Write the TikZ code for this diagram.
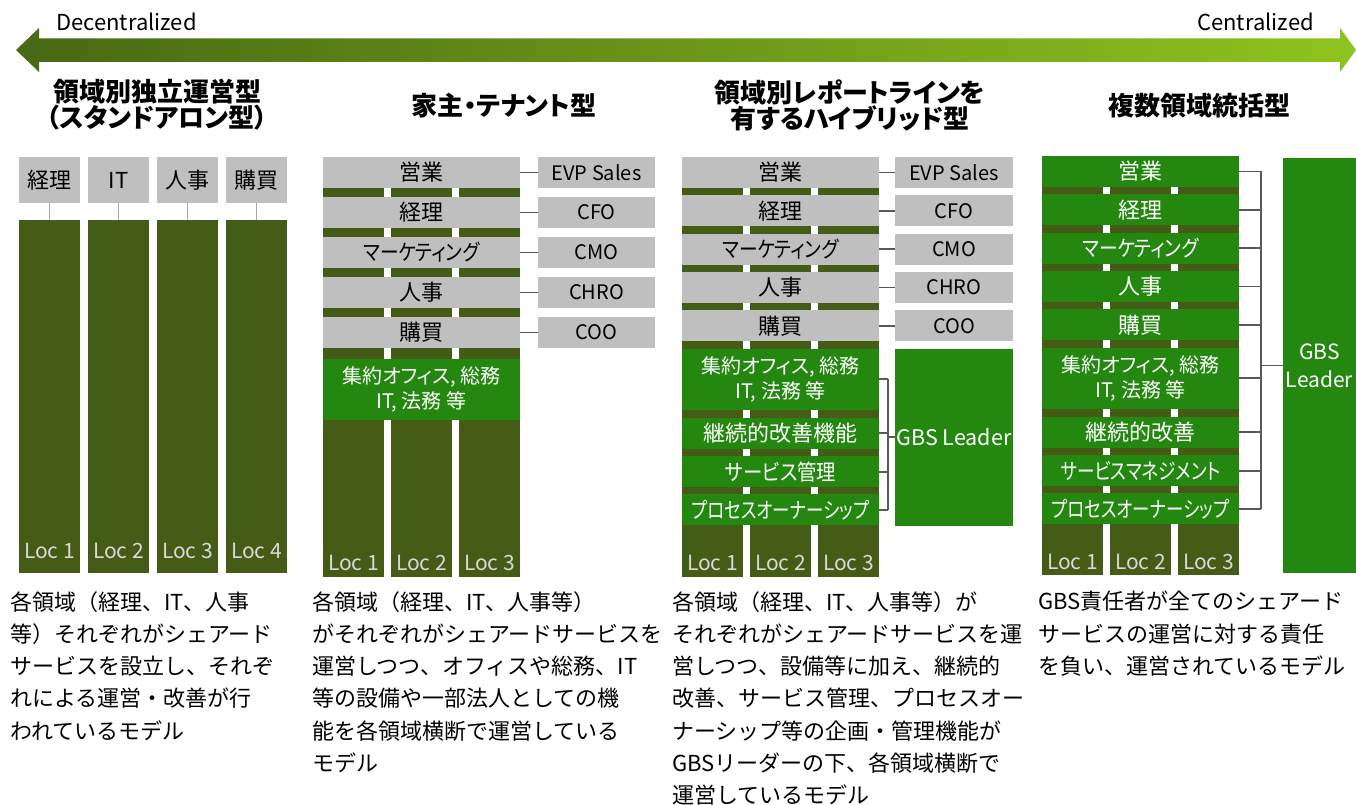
\documentclass[tikz,border=0pt]{standalone}
\usepackage{graphicx}
\usepackage{fontspec}
\setmainfont{Noto Sans CJK JP}[RawFeature=+palt]
\newfontfamily\bodyfont{Noto Sans CJK JP}
\newcommand\narrow[2]{\scalebox{#1}[1]{#2}}
\definecolor{locgreen}{RGB}{68,92,22}
\definecolor{gbsgreen}{RGB}{36,136,16}
\definecolor{boxgray}{RGB}{191,191,191}
\definecolor{linegray}{RGB}{89,89,89}
\definecolor{lightline}{RGB}{166,166,166}
\definecolor{loctext}{RGB}{217,217,217}
\definecolor{arrowL}{RGB}{72,104,20}
\definecolor{arrowR}{RGB}{142,196,30}
\tikzset{
  rect/.style={inner sep=0pt, outer sep=0pt, anchor=center},
  graybox/.style={rect, fill=boxgray, text=black, font=\fontsize{22}{25}\selectfont},
  rolebox/.style={rect, fill=boxgray, text=black, font=\fontsize{20}{25}\selectfont},
  greenbox/.style={rect, fill=gbsgreen, text=white, font=\fontsize{22}{25}\selectfont, align=center},
  twoline/.style={font=\fontsize{20}{25}\selectfont},
  loccol/.style={rect, fill=locgreen},
  loclabel/.style={text=loctext, font=\fontsize{21}{24}\selectfont, inner sep=0pt},
  conn/.style={draw=linegray, line width=1.8pt},
  thinconn/.style={draw=lightline, line width=1pt},
  ptitle/.style={font=\fontsize{26}{26}\selectfont\bfseries, align=center, inner sep=0pt},
  body/.style={font=\bodyfont\fontsize{22}{32.3}\selectfont, align=left, anchor=north west, inner sep=0pt},
  scale label/.style={font=\fontsize{22}{24}\selectfont, inner sep=0pt}
}
\begin{document}
\begin{tikzpicture}[x=1pt,y=-1pt]
\useasboundingbox (0,0) rectangle (1356,805);
% ---------- top arrow ----------
\shade[left color=arrowL, right color=arrowR]
  (16,50) -- (39,28) -- (39,38.5) -- (1340,38.5) -- (1340,28) -- (1356,50)
  -- (1340,72) -- (1340,62) -- (39,62) -- (39,72) -- cycle;
\node[scale label, anchor=west] (dec) at (56,22) {Decentralized};
\node[scale label, anchor=east] (cen) at (1314,22) {Centralized};
% ---------- titles ----------
\node[ptitle] (t1) at (157,105) {領域別独立運営型\\（スタンドアロン型）};
\node[ptitle] (t2) at (504,106) {家主・テナント型};
\node[ptitle] (t3) at (850,105) {領域別レポートラインを\\有するハイブリッド型};
\node[ptitle] (t4) at (1199,106) {複数領域統括型};
% ---------- panel 1 ----------
\foreach \i/\x/\t in {1/49.5/経理, 2/118.5/IT, 3/187.5/人事, 4/256.5/購買}{
  \node[graybox, minimum width=61pt, minimum height=46pt] (p1h\i) at (\x,180) {\t};
  \node[loccol, minimum width=61pt, minimum height=353pt] (p1c\i) at (\x,396.5) {};
  \node[loclabel] (p1l\i) at (\x,551) {Loc \i};
  \draw[thinconn] (p1h\i.south) -- (p1c\i.north);
}
% ---------- panel 2 ----------
\foreach \i/\x in {1/353.5, 2/421.5, 3/489.5}{
  \node[loccol, minimum width=61pt, minimum height=420pt] (p2c\i) at (\x,367) {};
  \node[loclabel] (p2l\i) at (\x,563) {Loc \i};
}
\foreach \i/\y/\t/\r in {1/172.5/営業/EVP Sales, 2/212.5/経理/CFO, 3/252.5/\narrow{0.85}{マーケティング}/CMO, 4/292.5/人事/CHRO, 5/332.5/購買/COO}{
  \node[graybox, minimum width=197pt, minimum height=31pt] (p2b\i) at (421.5,\y) {\t};
  \node[rolebox, minimum width=117pt, minimum height=31pt] (p2r\i) at (596.5,\y) {\r};
  \draw[conn] (p2b\i.east) -- (p2r\i.west);
}
\node[greenbox, twoline, minimum width=197pt, minimum height=61pt] (p2g) at (421.5,389.5) {集約オフィス, 総務\\IT, 法務 等};
% ---------- panel 3 ----------
\foreach \i/\x in {1/712.5, 2/780.5, 3/848.5}{
  \node[loccol, minimum width=61pt, minimum height=420pt] (p3c\i) at (\x,367) {};
  \node[loclabel] (p3l\i) at (\x,563) {Loc \i};
}
\foreach \i/\y/\t/\r in {1/172.5/営業/EVP Sales, 2/210.8/経理/CFO, 3/249.1/\narrow{0.85}{マーケティング}/CMO, 4/287.4/人事/CHRO, 5/325.7/購買/COO}{
  \node[graybox, minimum width=197pt, minimum height=31pt] (p3b\i) at (780.5,\y) {\t};
  \node[rolebox, minimum width=118pt, minimum height=31pt] (p3r\i) at (954,\y) {\r};
  \draw[conn] (p3b\i.east) -- (p3r\i.west);
}
\node[greenbox, twoline, minimum width=197pt, minimum height=61pt] (p3g1) at (780.5,379) {集約オフィス, 総務\\IT, 法務 等};
\node[greenbox, minimum width=197pt, minimum height=31pt] (p3g2) at (780.5,433.3) {継続的改善機能};
\node[greenbox, minimum width=197pt, minimum height=31pt] (p3g3) at (780.5,471.6) {\narrow{0.88}{サービス管理}};
\node[greenbox, minimum width=197pt, minimum height=31pt] (p3g4) at (780.5,509.9) {\narrow{0.79}{プロセスオーナーシップ}};
\node[greenbox, minimum width=118pt, minimum height=177pt, font=\fontsize{21.5}{26}\selectfont] (p3gbs) at (954,437) {GBS Leader};
\coordinate (p3j) at (888,437);
\foreach \i in {1,2,3,4}{
  \draw[conn] (p3g\i.east) -- (p3g\i.east -| p3j);
}
\draw[conn] (p3g1.east -| p3j) -- (p3g4.east -| p3j);
\draw[conn] (p3j) -- (p3gbs.west);
% ---------- panel 4 ----------
\foreach \i/\x in {1/1072.5, 2/1140.5, 3/1208.5}{
  \node[loccol, minimum width=61pt, minimum height=419pt] (p4c\i) at (\x,365.5) {};
  \node[loclabel] (p4l\i) at (\x,562) {Loc \i};
}
\foreach \i/\y/\t in {1/171.5/営業, 2/209.8/経理, 3/248.1/\narrow{0.85}{マーケティング}, 4/286.4/人事, 5/324.7/購買, 7/432.3/継続的改善, 8/470.6/\narrow{0.8}{サービスマネジメント}, 9/508.9/\narrow{0.79}{プロセスオーナーシップ}}{
  \node[greenbox, minimum width=197pt, minimum height=31pt] (p4b\i) at (1140.5,\y) {\t};
}
\node[greenbox, twoline, minimum width=197pt, minimum height=61pt] (p4b6) at (1140.5,378) {集約オフィス, 総務\\IT, 法務 等};
\node[greenbox, minimum width=73pt, minimum height=415pt, font=\fontsize{21}{28}\selectfont] (p4gbs) at (1319.5,365.5) {GBS\\Leader};
\coordinate (p4j) at (1261,365.5);
\foreach \i in {1,...,9}{
  \draw[conn] (p4b\i.east) -- (p4b\i.east -| p4j);
}
\draw[conn] (p4b1.east -| p4j) -- (p4b9.east -| p4j);
\draw[conn] (p4j) -- (p4gbs.west);
% ---------- descriptions ----------
\node[body] (d1) at (10,591) {各領域（経理、IT、人事\\等）それぞれがシェアード\\サービスを設立し、それぞ\\れによる運営・改善が行\\われているモデル};
\node[body] (d2) at (312,591) {各領域（経理、IT、人事等）\\がそれぞれがシェアードサービスを\\運営しつつ、オフィスや総務、IT\\等の設備や一部法人としての機\\能を各領域横断で運営している\\モデル};
\node[body] (d3) at (672,591) {各領域（経理、IT、人事等）が\\それぞれがシェアードサービスを運\\営しつつ、設備等に加え、継続的\\改善、サービス管理、プロセスオー\\ナーシップ等の企画・管理機能が\\GBSリーダーの下、各領域横断で\\運営しているモデル};
\node[body] (d4) at (1038,591) {GBS責任者が全てのシェアード\\サービスの運営に対する責任\\を負い、運営されているモデル};
\end{tikzpicture}
\end{document}
